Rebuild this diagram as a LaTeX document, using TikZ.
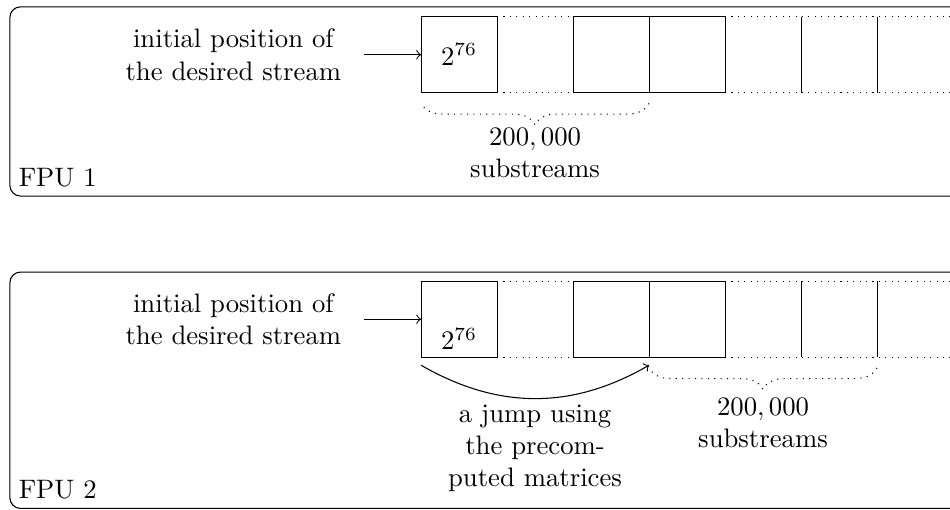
\documentclass[tikz,border=0pt]{standalone}
\usepackage{tikz}
\usetikzlibrary{calc,decorations.pathreplacing}

\begin{document}
\begin{tikzpicture}[
		cell/.style={draw, minimum size=1cm, inner sep=0pt, outer sep=0pt},
		gap/.style={minimum size=1cm, inner sep=0pt, outer sep=0pt},
		panel/.style={draw, rounded corners, inner sep=0pt, minimum width=13.07cm},
		dottedbrace/.style={dotted, decorate, decoration={brace, amplitude=8pt}}
	]
			%%%%% START %%%%%
			
			\useasboundingbox (0, 0) rectangle (12.5, -6.71);
			
			% FPU 1
			\node[panel, minimum height=2.49cm] (fpu1) at (6.665, -1.335) {};
			\node[anchor=south west] (lab1) at (fpu1.south west) {FPU 1};
			
			\node[cell] (p1) at (6.04, -0.72) {$2^{76}$};
			\node[gap] (q1) at (7.04, -0.72) {};
			\node[cell] (r1) at (8.04, -0.72) {};
			\node[cell] (s1) at (9.04, -0.72) {};
			\node[gap] (t1) at (10.04, -0.72) {};
			\node[gap] (u1) at (11.04, -0.72) {};
			\node[gap] (v1) at (12.04, -0.72) {};
			\draw[dotted] (p1.north east) -- (r1.north west) (p1.south east) -- (r1.south west);
			\draw[dotted] (s1.north east) -- (v1.north east) (s1.south east) -- (v1.south east);
			\draw (t1.north east) -- (t1.south east) (u1.north east) -- (u1.south east);
			
			\node[align=center] (init1) at (3.07, -0.72) {initial position of\\the desired stream};
			\draw[->, shorten <=5pt] (init1) -- (p1);
			
			\draw[dottedbrace] ([yshift=-4pt]s1.south west) -- ([yshift=-4pt]p1.south west);
			\node[align=center] (sub1) at (7.04, -2.01) {$200,000$\\substreams};
			
			% FPU 2
			\node[panel, minimum height=3.11cm] (fpu2) at (6.665, -5.135) {};
			\node[anchor=south west] (lab2) at (fpu2.south west) {FPU 2};
			
			\node[cell] (p2) at (6.04, -4.2) {};
			\node[gap] (q2) at (7.04, -4.2) {};
			\node[cell] (r2) at (8.04, -4.2) {};
			\node[cell] (s2) at (9.04, -4.2) {};
			\node[gap] (t2) at (10.04, -4.2) {};
			\node[gap] (u2) at (11.04, -4.2) {};
			\node[gap] (v2) at (12.04, -4.2) {};
			\node[above, inner sep=2.5pt] (pv2) at (p2.south) {$2^{76}$};
			\draw[dotted] (p2.north east) -- (r2.north west) (p2.south east) -- (r2.south west);
			\draw[dotted] (s2.north east) -- (v2.north east) (s2.south east) -- (v2.south east);
			\draw (t2.north east) -- (t2.south east) (u2.north east) -- (u2.south east);
			
			\node[align=center] (init2) at (3.07, -4.2) {initial position of\\the desired stream};
			\draw[->, shorten <=5pt] (init2) -- (p2);
			
			\draw[->] ([yshift=-3pt]p2.south west) to[bend right=30] ([yshift=-3pt]s2.south west);
			\node[align=center] (jump) at (7.04, -5.9) {a jump using\\the precom-\\puted matrices};
			
			\draw[dottedbrace] ([yshift=-4pt]u2.south east) -- ([yshift=-4pt]s2.south west);
			\node[align=center] (sub2) at (10.04, -5.57) {$200,000$\\substreams};
			
			%%%%% END %%%%%
		\end{tikzpicture}
\end{document}
